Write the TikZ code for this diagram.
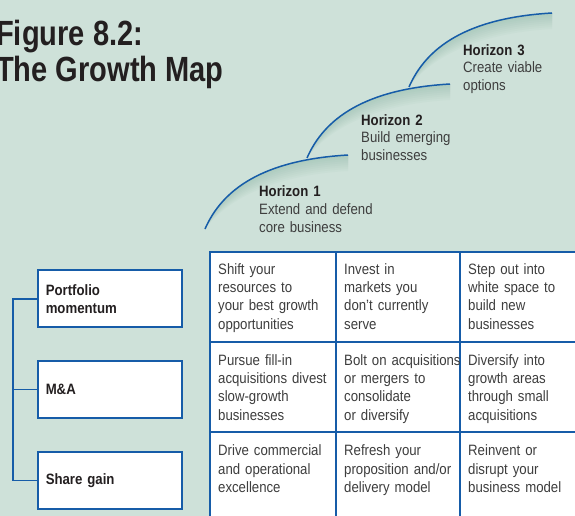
\documentclass[tikz,border=0pt]{standalone}
\usepackage{fontspec}
\setmainfont{Liberation Sans}[FakeStretch=0.88]
\newfontfamily\titlefont{Liberation Sans}[FakeStretch=0.83]
\usetikzlibrary{calc}

\definecolor{paper}{RGB}{206,225,217}
\definecolor{mapblue}{RGB}{22,92,168}
\definecolor{ink}{RGB}{35,31,32}
\definecolor{softink}{RGB}{62,62,62}
\definecolor{curveshade}{RGB}{110,165,140}

% fixed height of the first line, so every text block starts on a known baseline
\newcommand\firstln{\rule{0pt}{12pt}}

\tikzset{
  titletext/.style={anchor=base west, inner sep=0pt, text=ink,
    font=\titlefont\bfseries\fontsize{35}{35.7}\selectfont},
  sidebox/.style={draw=mapblue, line width=1.8pt, fill=white,
    minimum width=144.5pt, minimum height=57pt, text width=128.5pt,
    inner xsep=8pt, align=left, text=ink,
    font=\bfseries\fontsize{15}{18.3}\selectfont},
  bracket/.style={draw=mapblue, line width=1.8pt},
  gridline/.style={draw=mapblue, line width=1.8pt},
  celltext/.style={anchor=north west, inner sep=0pt, text width=118pt,
    align=left, text=softink, font=\fontsize{15}{18.3}\selectfont},
  horizontext/.style={anchor=north west, inner sep=0pt, text width=135pt,
    align=left, text=softink, font=\fontsize{15}{17.7}\selectfont},
  horizoncurve/.style={draw=mapblue, line width=1.5pt},
}

\begin{document}
\begin{tikzpicture}[x=1pt, y=-1pt]
  \useasboundingbox (0,0) rectangle (575,516);
  \clip (0,0) rectangle (575,516);
  \fill[paper] (0,0) rectangle (575,516);

  % title
  \node[titletext] (t1) at (-4,46) {Figure 8.2:};
  \node[titletext] (t2) at (-4,81.7) {The Growth Map};

  % soft shading under the three horizon arcs
  \foreach \k in {0,1,2} {
    \begin{scope}[shift={(102*\k,-71*\k)}]
      \foreach \d in {2,4,...,16} {
        \fill[curveshade, opacity=0.045]
          (205,229) .. controls (222,190) and (262,160) .. (348,155)
          -- (348,{155+\d}) .. controls (262,{160+\d}) and (222,{190+\d}) .. (205,229)
          -- cycle;
      }
    \end{scope}
  }
  % the horizon arcs themselves
  \foreach \k in {0,1,2} {
    \begin{scope}[shift={(102*\k,-71*\k)}]
      \draw[horizoncurve] (205,229) .. controls (222,190) and (262,160) .. (348,155);
    \end{scope}
  }

  % horizon labels
  \node[horizontext] (h1) at (259,184.7)
    {\firstln{\color{ink}\bfseries Horizon 1}\\Extend and defend\\core business};
  \node[horizontext] (h2) at (361,113)
    {\firstln{\color{ink}\bfseries Horizon 2}\\Build emerging\\businesses};
  \node[horizontext] (h3) at (463,43)
    {\firstln{\color{ink}\bfseries Horizon 3}\\Create viable\\options};

  % growth matrix
  \fill[white] (210,252) rectangle (580,520);
  \draw[gridline] (210,520) -- (210,252) -- (580,252);
  \draw[gridline] (336,252) -- (336,520);
  \draw[gridline] (460,252) -- (460,520);
  \draw[gridline] (210,342.3) -- (580,342.3);
  \draw[gridline] (210,432.3) -- (580,432.3);

  \node[celltext] (c11) at (218,262) {\firstln Shift your\\resources to\\your best growth\\opportunities};
  \node[celltext] (c12) at (344,262) {\firstln Invest in\\markets you\\don’t currently\\serve};
  \node[celltext] (c13) at (468,262) {\firstln Step out into\\white space to\\build new\\businesses};

  \node[celltext] (c21) at (218,353) {\firstln Pursue fill-in\\acquisitions divest\\slow-growth\\businesses};
  \node[celltext] (c22) at (344,353) {\firstln Bolt on acquisitions\\or mergers to\\consolidate\\or diversify};
  \node[celltext] (c23) at (468,353) {\firstln Diversify into\\growth areas\\through small\\acquisitions};

  \node[celltext] (c31) at (218,443.5) {\firstln Drive commercial\\and operational\\excellence};
  \node[celltext] (c32) at (344,443.5) {\firstln Refresh your\\proposition and/or\\delivery model};
  \node[celltext] (c33) at (468,443.5) {\firstln Reinvent or\\disrupt your\\business model};

  % row headings and their bracket
  \node[sidebox] (pm) at (110,298.8) {Portfolio\\momentum};
  \node[sidebox] (ma) at (110,389.5) {M\&A};
  \node[sidebox] (sg) at (110,480.4) {Share gain};

  \coordinate (spine) at (13,0);
  \draw[bracket] (pm.west) -- (pm.west -| spine) |- (sg.west);
  \draw[bracket] (ma.west) -- (ma.west -| spine);
\end{tikzpicture}
\end{document}
